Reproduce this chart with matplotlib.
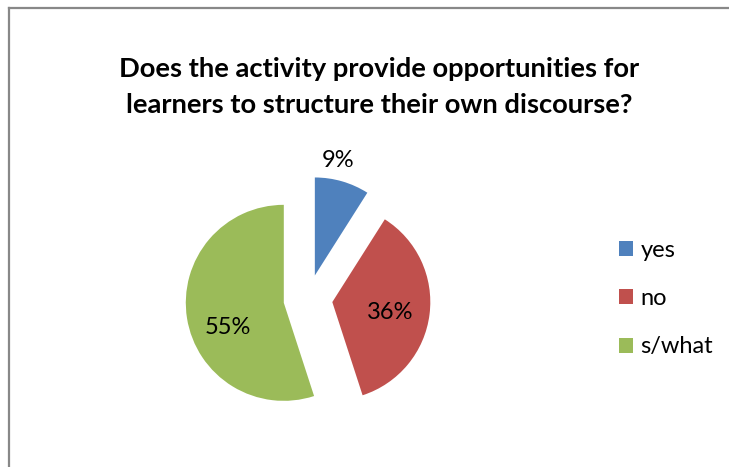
import numpy as np
import matplotlib
matplotlib.use('Agg')
import matplotlib.pyplot as plt
from matplotlib.lines import Line2D
from matplotlib.patches import Patch

# 데이터
labels = ['yes', 'no', 's/what']
values = [9, 36, 55]
colors = ['#4F81BD', '#C0504D', '#9BBB59']
title = 'Does the activity provide opportunities for\nlearners to structure their own discourse?'

plt.rcParams['font.family'] = ['Lato', 'DejaVu Sans']

W, H = 729, 467
fig = plt.figure(figsize=(W / 100, H / 100), dpi=100)
ax = fig.add_axes([0, 0, 1, 1])
ax.set_xlim(0, W)
ax.set_ylim(0, H)
ax.set_aspect('equal')
ax.axis('off')

# 차트 테두리 (잘린 프레임)
fig.add_artist(Line2D([8.5 / W, 8.5 / W], [0, 1 - 7.5 / H], color='#888888', lw=1.6))
fig.add_artist(Line2D([8.5 / W, 1], [1 - 7.5 / H, 1 - 7.5 / H], color='#888888', lw=1.6))

R = 98
wedges, texts, autotexts = ax.pie(values, colors=colors, startangle=90, counterclock=False,
                                  explode=[0.25 * R] * 3, radius=R, center=(308, H - 299),
                                  autopct='%d%%', pctdistance=0.6,
                                  textprops={'fontsize': 17, 'color': 'black'})
ax.set_xlim(0, W)
ax.set_ylim(0, H)

# 라벨 위치 (9%는 바깥쪽)
for w, t, d, da in zip(wedges, autotexts, [1.2, 0.6, 0.625], [5, -3.5, 15]):
    mid = np.deg2rad((w.theta1 + w.theta2) / 2 + da)
    cx, cy = w.center
    t.set_position((cx + d * w.r * np.cos(mid), cy + d * w.r * np.sin(mid)))

ax.text(379, H - 87, title, ha='center', va='center', fontsize=19.7,
        fontweight='bold', linespacing=1.58)

handles = [Patch(facecolor=c, edgecolor='none') for c in colors]
fig.legend(handles, labels, loc='upper left', bbox_to_anchor=(612 / W, 1 - 233 / H),
           frameon=False, fontsize=17, handlelength=0.6, handleheight=0.6,
           handletextpad=0.3, labelspacing=1.15, borderaxespad=0, borderpad=0.3)

fig.savefig('out.png', dpi=100)
